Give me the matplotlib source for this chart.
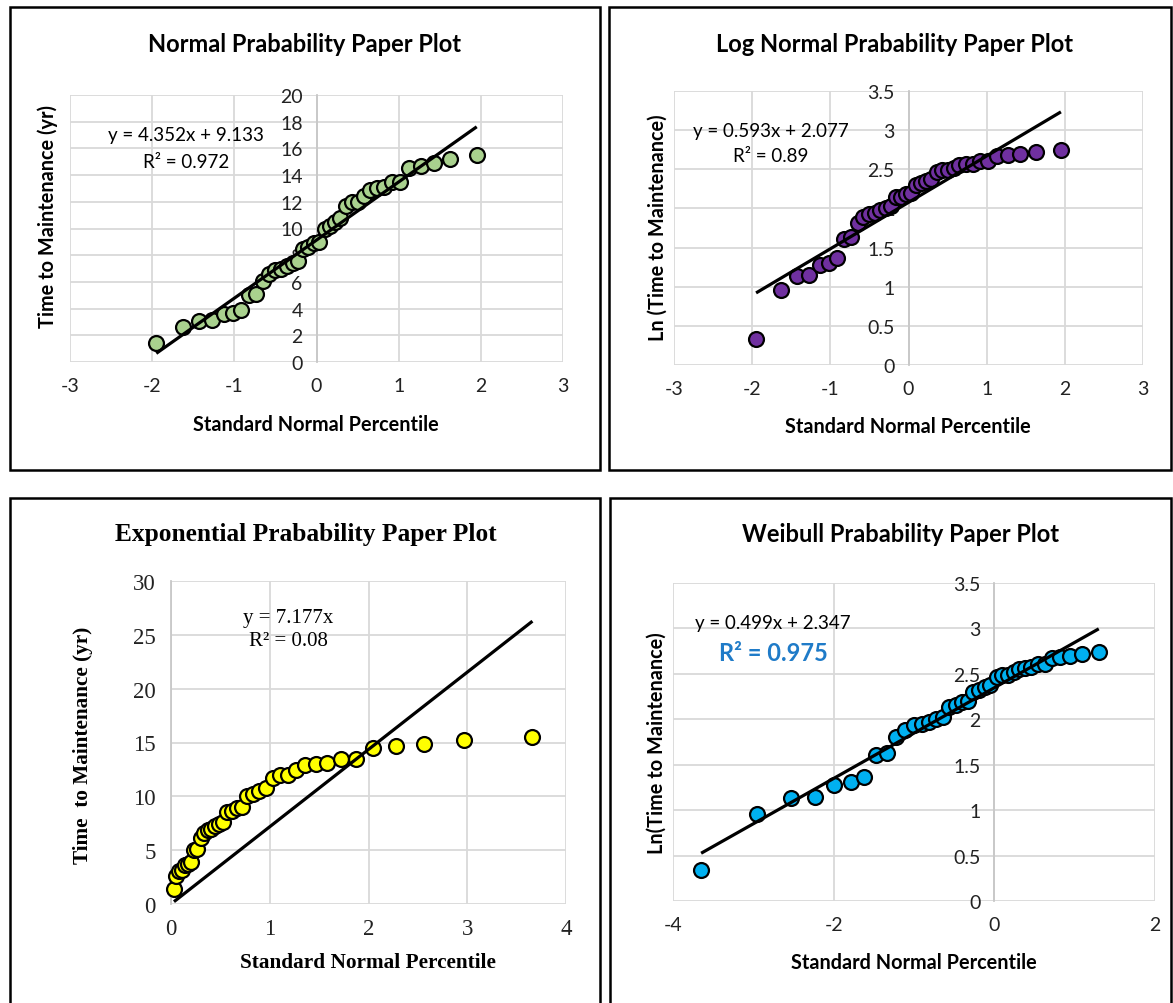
import matplotlib
matplotlib.use("Agg")
import matplotlib.pyplot as plt
from matplotlib.patches import Rectangle

W, H = 1173, 1004

# time to maintenance (yr), sorted
time_yr = [1.4, 2.6, 3.1, 3.15, 3.6, 3.7, 3.9, 5.0, 5.1, 6.1, 6.6, 6.9, 7.0, 7.2, 7.4, 7.6,
           8.5, 8.6, 8.9, 9.0, 10.0, 10.2, 10.5, 10.8, 11.7, 12.0, 12.0, 12.4, 12.9, 13.0,
           13.1, 13.5, 13.5, 14.5, 14.7, 14.9, 15.2, 15.5]
ln_time = [0.336, 0.956, 1.131, 1.147, 1.281, 1.308, 1.361, 1.609, 1.629, 1.808, 1.887,
           1.932, 1.946, 1.974, 2.001, 2.028, 2.140, 2.152, 2.186, 2.197, 2.303, 2.322,
           2.351, 2.380, 2.460, 2.485, 2.485, 2.518, 2.557, 2.565, 2.573, 2.603, 2.603,
           2.674, 2.688, 2.701, 2.721, 2.741]

# plotting positions on each paper
x_normal = [-1.95, -1.63, -1.43, -1.27, -1.13, -1.02, -0.92, -0.82, -0.74, -0.65, -0.58,
            -0.50, -0.43, -0.36, -0.29, -0.23, -0.16, -0.10, -0.03, 0.03, 0.10, 0.16,
            0.23, 0.29, 0.36, 0.43, 0.50, 0.58, 0.65, 0.74, 0.82, 0.92, 1.02, 1.13,
            1.27, 1.43, 1.63, 1.95]
x_expo = [0.03, 0.05, 0.08, 0.11, 0.14, 0.17, 0.20, 0.23, 0.26, 0.30, 0.33, 0.37, 0.41,
          0.45, 0.49, 0.53, 0.57, 0.62, 0.67, 0.72, 0.77, 0.83, 0.89, 0.96, 1.03, 1.10,
          1.18, 1.27, 1.36, 1.47, 1.58, 1.72, 1.87, 2.05, 2.28, 2.56, 2.97, 3.66]
x_weibull = [-3.65, -2.96, -2.53, -2.23, -1.99, -1.79, -1.62, -1.47, -1.34, -1.22, -1.11,
             -1.00, -0.90, -0.81, -0.72, -0.64, -0.56, -0.48, -0.40, -0.33, -0.26, -0.19,
             -0.12, -0.05, 0.03, 0.09, 0.17, 0.24, 0.31, 0.38, 0.46, 0.54, 0.63, 0.72,
             0.82, 0.94, 1.09, 1.30]

# trendline coefficients (slope, intercept) as printed on the charts
fit_normal = (4.352, 9.133)
fit_lognormal = (0.593, 2.077)
fit_expo = (7.177, 0.0)
fit_weibull = (0.499, 2.347)

SANS = "Lato"
SERIF = "Liberation Serif"
GRID = "#D9D9D9"


def px(x, y):
    return x / W, 1 - y / H


def frame(fig, x0, y0, x1, y1):
    fig.patches.append(Rectangle(px(x0, y1), (x1 - x0) / W, (y1 - y0) / H,
                                 transform=fig.transFigure, fill=False, ec="black", lw=1.8))


def panel(fig, box, x, y, fit, color, xlim, xticks, ylim, yticks, family, fs, ypad, xpad):
    x0, y0, x1, y1 = box
    ax = fig.add_axes([x0 / W, 1 - y1 / H, (x1 - x0) / W, (y1 - y0) / H])
    # value axis crosses at x = 0, as in Excel (set before tick styling)
    for s in ["top", "right", "bottom"]:
        ax.spines[s].set_visible(False)
    ax.spines["left"].set_position(("data", 0))
    ax.spines["left"].set_color("#C8C8C8")
    ax.spines["left"].set_linewidth(1.3)
    ax.set_xlim(*xlim)
    ax.set_ylim(*ylim)
    ax.set_xticks(xticks)
    ax.set_yticks(yticks)
    ax.set_xticklabels([f"{v:g}" for v in xticks], family=family, fontsize=fs, color="#222222")
    ax.set_yticklabels([f"{v:g}" for v in yticks], family=family, fontsize=fs, color="#222222")
    ax.tick_params(length=0)
    ax.tick_params(axis="y", pad=ypad)
    ax.tick_params(axis="x", pad=xpad)
    ax.grid(True, color=GRID, lw=1.3, zorder=0)
    ax.scatter(x, y, s=115, c=color, edgecolors="black", linewidths=1.6, zorder=3, clip_on=False)
    m, b = fit
    xs = [min(x), max(x)]
    ax.plot(xs, [m * v + b for v in xs], color="black", lw=2.3, zorder=4,
            solid_capstyle="butt")
    return ax


def label(fig, x, y, s, family, fs, bold=False, rot=0, color="black"):
    fig.text(*px(x, y), s, family=family, fontsize=fs, ha="center", va="center",
             fontweight="bold" if bold else "normal", rotation=rot, color=color)


fig = plt.figure(figsize=(W / 100, H / 100), dpi=100)
fig.patch.set_facecolor("white")

# panel borders
frame(fig, 10, 8, 600, 471)
frame(fig, 609, 8, 1171, 471)
frame(fig, 10, 499, 600, 1012)
frame(fig, 610, 499, 1171, 1012)

# normal
panel(fig, (70, 96, 563, 363), x_normal, time_yr, fit_normal, "#A9D18E",
      (-3, 3), [-3, -2, -1, 0, 1, 2, 3], (0, 20), list(range(0, 21, 2)), SANS, 14, 10, 11)
label(fig, 305, 44, "Normal Prabability Paper Plot", SANS, 17, bold=True)
label(fig, 316, 425, "Standard Normal Percentile", SANS, 14.3, bold=True)
label(fig, 48, 217, "Time to Maintenance (yr)", SANS, 14.3, bold=True, rot=90)
label(fig, 186, 135, "y = 4.352x + 9.133", SANS, 13.5)
label(fig, 186, 162, "R² = 0.972", SANS, 13.5)

# log normal
panel(fig, (674, 92, 1143, 366), x_normal, ln_time, fit_lognormal, "#7030A0",
      (-3, 3), [-3, -2, -1, 0, 1, 2, 3], (0, 3.5), [0, 0.5, 1, 1.5, 2, 2.5, 3, 3.5],
      SANS, 14, 10, 11)
label(fig, 894, 44, "Log Normal Prabability Paper Plot", SANS, 17, bold=True)
label(fig, 908, 427, "Standard Normal Percentile", SANS, 14.3, bold=True)
label(fig, 658, 228, "Ln (Time to Maintenance)", SANS, 14.3, bold=True, rot=90)
label(fig, 771, 132, "y = 0.593x + 2.077", SANS, 13.5)
label(fig, 771, 157, "R² = 0.89", SANS, 13.5)

# exponential
panel(fig, (171, 582, 566, 905), x_expo, time_yr, fit_expo, "#FFFF00",
      (0, 4), [0, 1, 2, 3, 4], (0, 30), [0, 5, 10, 15, 20, 25, 30], SERIF, 16.5, 11, 10)
label(fig, 306, 535, "Exponential Prabability Paper Plot", SERIF, 18.3, bold=True)
label(fig, 368, 963, "Standard Normal Percentile", SERIF, 15.3, bold=True)
label(fig, 83, 745, "Time  to Maintenance (yr)", SERIF, 15.3, bold=True, rot=90)
label(fig, 288, 618, "y = 7.177x", SERIF, 15)
label(fig, 288, 642, "R² = 0.08", SERIF, 15)

# weibull
panel(fig, (673, 584, 1155, 902), x_weibull, ln_time, fit_weibull, "#00B0F0",
      (-4, 2), [-4, -2, 0, 2], (0, 3.5), [0, 0.5, 1, 1.5, 2, 2.5, 3, 3.5], SANS, 14, 10, 11)
label(fig, 900, 535, "Weibull Prabability Paper Plot", SANS, 17, bold=True)
label(fig, 914, 963, "Standard Normal Percentile", SANS, 14.3, bold=True)
label(fig, 657, 743, "Ln(Time to Maintenance)", SANS, 14.3, bold=True, rot=90)
label(fig, 773, 623, "y = 0.499x + 2.347", SANS, 13.5)
label(fig, 773, 654, "R² = 0.975", SANS, 17, bold=True, color="#1F7BC8")

fig.savefig("out.png", dpi=100)
